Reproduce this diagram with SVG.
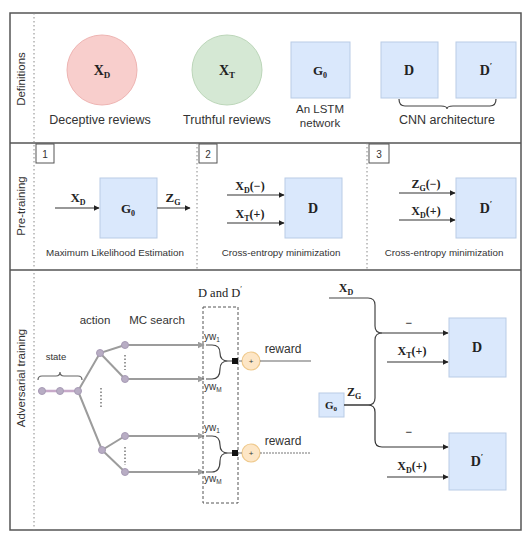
<svg xmlns="http://www.w3.org/2000/svg" width="528" height="536" viewBox="0 0 528 536">
<style>
.frame{fill:none;stroke:#555;stroke-width:1.5}
.sep{stroke:#555;stroke-width:1.5}
.dotl{stroke:#888;stroke-width:1;stroke-dasharray:1.5 2.5}
.box{fill:#dae8fc;stroke:#b9cce6;stroke-width:1}
.math{font-family:"Liberation Serif",serif;font-weight:bold;fill:#222}
.serif{font-family:"Liberation Serif",serif;fill:#222}
.cap{font-family:"Liberation Sans",Arial,sans-serif;fill:#333}
.arr{stroke:#333;stroke-width:1.2;fill:none;marker-end:url(#ah)}
.ln{stroke:#444;stroke-width:1.2;fill:none}
.tree{stroke:#9c9c9c;stroke-width:2;fill:none}
.tarr{stroke:#9c9c9c;stroke-width:2;fill:none;marker-end:url(#gh)}
.nd{fill:#b8adc4;stroke:#a79bb5;stroke-width:1}
.num{fill:#fff;stroke:#555;stroke-width:1}
.plus{fill:#fde6c6;stroke:#efc98c;stroke-width:1.2}
.vd{stroke:#777;stroke-width:1.5;stroke-dasharray:1.5 2}
</style>
<defs>
<marker id="ah" viewBox="0 0 10 10" refX="9" refY="5" markerWidth="6" markerHeight="6" orient="auto" markerUnits="userSpaceOnUse"><path d="M0,0 L10,5 L0,10 z" fill="#222"/></marker>
<marker id="gh" viewBox="0 0 10 10" refX="9" refY="5" markerWidth="7" markerHeight="7" orient="auto" markerUnits="userSpaceOnUse"><path d="M0,0 L10,5 L0,10 z" fill="#9c9c9c"/></marker>
</defs>
<rect x="0" y="0" width="528" height="536" fill="#fff"/>

<g id="frame">
<rect class="frame" x="10" y="13" width="511" height="517"/>
<line class="sep" x1="10" y1="143" x2="521" y2="143"/>
<line class="sep" x1="10" y1="270" x2="521" y2="270"/>
<line class="dotl" x1="34" y1="13" x2="34" y2="530"/>
<line class="dotl" x1="197" y1="143" x2="197" y2="270"/>
<line class="dotl" x1="367" y1="143" x2="367" y2="270"/>
<text class="cap" font-size="11.5" transform="translate(25,79) rotate(-90)" text-anchor="middle">Definitions</text>
<text class="cap" font-size="11.5" transform="translate(25,206) rotate(-90)" text-anchor="middle">Pre-training</text>
<text class="cap" font-size="11.5" transform="translate(25,378) rotate(-90)" text-anchor="middle">Adversarial training</text>
</g>

<!-- Definitions -->
<g id="def-xd">
<circle cx="102" cy="70" r="35" fill="#f8cecc" stroke="#eeb4b2" stroke-width="1"/>
<text class="math" x="102" y="75" font-size="14" text-anchor="middle">X<tspan font-size="9" dy="3">D</tspan></text>
<text class="cap" x="100" y="124" font-size="12.5" text-anchor="middle">Deceptive reviews</text>
</g>
<g id="def-xt">
<circle cx="227" cy="70" r="35" fill="#d5e8d4" stroke="#bcd6b9" stroke-width="1"/>
<text class="math" x="227" y="75" font-size="14" text-anchor="middle">X<tspan font-size="9" dy="3">T</tspan></text>
<text class="cap" x="227" y="124" font-size="12.5" text-anchor="middle">Truthful reviews</text>
</g>
<g id="def-g0">
<rect class="box" x="291" y="42" width="59" height="56"/>
<text class="math" x="320" y="75" font-size="13" text-anchor="middle">G<tspan font-size="8" dy="3">0</tspan></text>
<text class="cap" x="320" y="113" font-size="11.5" text-anchor="middle">An LSTM</text>
<text class="cap" x="320" y="127" font-size="11.5" text-anchor="middle">network</text>
</g>
<g id="def-d">
<rect class="box" x="381" y="42" width="57" height="56"/>
<text class="math" x="409" y="75" font-size="14" text-anchor="middle">D</text>
</g>
<g id="def-dp">
<rect class="box" x="456" y="42" width="60" height="56"/>
<text class="math" x="486" y="75" font-size="14" text-anchor="middle">D<tspan font-size="9" dy="-6">′</tspan></text>
</g>
<g id="def-cnn">
<path class="ln" d="M399 99 Q399 106 405 106 H441 Q447 106 447 109 Q447 106 453 106 H490 Q496 106 496 99" stroke="#777"/>
<text class="cap" x="447" y="124" font-size="12.5" text-anchor="middle">CNN architecture</text>
</g>

<!-- Pre-training -->
<g id="pt1">
<rect class="num" x="36" y="144" width="18" height="19"/>
<text class="cap" x="45" y="158" font-size="10" text-anchor="middle">1</text>
<rect class="box" x="100" y="178" width="57" height="60"/>
<text class="math" x="128" y="213" font-size="13" text-anchor="middle">G<tspan font-size="8" dy="3">0</tspan></text>
<text class="math" x="78" y="202" font-size="13" text-anchor="middle">X<tspan font-size="8" dy="3">D</tspan></text>
<text class="math" x="173" y="202" font-size="13" text-anchor="middle">Z<tspan font-size="8" dy="3">G</tspan></text>
<text class="cap" x="115" y="256" font-size="9.8" text-anchor="middle">Maximum Likelihood Estimation</text>
</g>
<g id="pt2">
<rect class="num" x="199" y="144" width="18" height="19"/>
<text class="cap" x="208" y="158" font-size="10" text-anchor="middle">2</text>
<rect class="box" x="285" y="178" width="57" height="60"/>
<text class="math" x="313" y="213" font-size="14" text-anchor="middle">D</text>
<text class="math" x="250" y="190" font-size="12" text-anchor="middle">X<tspan font-size="8" dy="3">D</tspan><tspan dy="-3">(−)</tspan></text>
<text class="math" x="250" y="218" font-size="12" text-anchor="middle">X<tspan font-size="8" dy="3">T</tspan><tspan dy="-3">(+)</tspan></text>
<text class="cap" x="281" y="256" font-size="9.8" text-anchor="middle">Cross-entropy minimization</text>
</g>
<g id="pt3">
<rect class="num" x="369" y="144" width="20" height="19"/>
<text class="cap" x="379" y="158" font-size="10" text-anchor="middle">3</text>
<rect class="box" x="456" y="178" width="60" height="60"/>
<text class="math" x="486" y="213" font-size="14" text-anchor="middle">D<tspan font-size="9" dy="-6">′</tspan></text>
<text class="math" x="426" y="188" font-size="12" text-anchor="middle">Z<tspan font-size="8" dy="3">G</tspan><tspan dy="-3">(−)</tspan></text>
<text class="math" x="426" y="215" font-size="12" text-anchor="middle">X<tspan font-size="8" dy="3">D</tspan><tspan dy="-3">(+)</tspan></text>
<text class="cap" x="444" y="256" font-size="9.8" text-anchor="middle">Cross-entropy minimization</text>
</g>

<!-- Adversarial: tree -->
<g id="tree">
<text class="cap" x="56" y="360" font-size="9.5" text-anchor="middle">state</text>
<text class="cap" x="95" y="324" font-size="11.5" text-anchor="middle">action</text>
<text class="cap" x="157" y="324" font-size="11.5" text-anchor="middle">MC search</text>
<path d="M38 380 Q38 376 42 376 H56 Q60 376 60 372 Q60 376 64 376 H78 Q82 376 82 380" fill="none" stroke="#666" stroke-width="1.2"/>
<line x1="38" y1="391" x2="78" y2="391" stroke="#c7a9c9" stroke-width="2.5"/>
<path class="tree" d="M78 391 L100 353 L125 345"/>
<path class="tree" d="M100 353 L125 379"/>
<path class="tree" d="M78 391 L102 450 L125 436"/>
<path class="tree" d="M102 450 L125 472"/>
<path class="tarr" d="M125 345 H204"/>
<path class="tarr" d="M125 379 H204"/>
<path class="tarr" d="M125 436 H204"/>
<path class="tarr" d="M125 472 H204"/>
<circle class="nd" cx="42" cy="391" r="3.5"/>
<circle class="nd" cx="60" cy="391" r="3.5"/>
<circle class="nd" cx="78" cy="391" r="3.5"/>
<circle class="nd" cx="100" cy="353" r="3.5"/>
<circle class="nd" cx="102" cy="450" r="3.5"/>
<circle class="nd" cx="125" cy="345" r="3.5"/>
<circle class="nd" cx="125" cy="379" r="3.5"/>
<circle class="nd" cx="125" cy="436" r="3.5"/>
<circle class="nd" cx="125" cy="472" r="3.5"/>
<line class="vd" x1="125" y1="355" x2="125" y2="370"/>
<line class="vd" x1="101" y1="388" x2="101" y2="408"/>
<line class="vd" x1="125" y1="447" x2="125" y2="465"/>
</g>

<g id="dd-box">
<rect x="203" y="307" width="35" height="196" fill="none" stroke="#555" stroke-width="1" stroke-dasharray="3 2"/>
<text class="serif" x="220" y="297" font-size="12.5" text-anchor="middle">D and D<tspan font-size="8" dy="-5">′</tspan></text>
<text class="cap" x="204" y="340" font-size="10">yw<tspan font-size="6.5" dy="2">1</tspan></text>
<text class="cap" x="204" y="390" font-size="10">yw<tspan font-size="6.5" dy="2">M</tspan></text>
<text class="cap" x="204" y="431" font-size="10">yw<tspan font-size="6.5" dy="2">1</tspan></text>
<text class="cap" x="204" y="482" font-size="10">yw<tspan font-size="6.5" dy="2">M</tspan></text>
<path class="ln" d="M206 345 H212 Q220 345 220 353 Q220 361 228 361 H233 M206 379 H212 Q220 379 220 369 Q220 361 228 361" stroke="#777"/>
<path class="ln" d="M206 436 H212 Q220 436 220 445 Q220 453 228 453 H233 M206 472 H212 Q220 472 220 461 Q220 453 228 453" stroke="#777"/>
<rect x="232" y="358" width="6" height="6" fill="#111"/>
<rect x="232" y="450" width="6" height="6" fill="#111"/>
</g>

<g id="reward1">
<circle class="plus" cx="251" cy="361" r="9"/>
<text class="cap" x="251" y="364" font-size="8" text-anchor="middle">+</text>
<line x1="238" y1="361" x2="242" y2="361" stroke="#777" stroke-width="1"/>
<line x1="260" y1="361" x2="311" y2="361" stroke="#666" stroke-width="1.2"/>
<text class="cap" x="283" y="353" font-size="12" text-anchor="middle">reward</text>
</g>
<g id="reward2">
<circle class="plus" cx="251" cy="453" r="9"/>
<text class="cap" x="251" y="456" font-size="8" text-anchor="middle">+</text>
<line x1="238" y1="453" x2="242" y2="453" stroke="#777" stroke-width="1"/>
<line x1="260" y1="453" x2="311" y2="453" stroke="#777" stroke-width="1.2" stroke-dasharray="2 1"/>
<text class="cap" x="283" y="445" font-size="12" text-anchor="middle">reward</text>
</g>

<!-- Adversarial right side -->
<g id="adv-g0">
<rect class="box" x="319" y="393" width="25" height="24"/>
<text class="math" x="331" y="409" font-size="11" text-anchor="middle">G<tspan font-size="7" dy="2">0</tspan></text>
<text class="math" x="354" y="396" font-size="12" text-anchor="middle">Z<tspan font-size="8" dy="3">G</tspan></text>
</g>
<g id="adv-d">
<rect class="box" x="449" y="318" width="57" height="59"/>
<text class="math" x="477" y="352" font-size="14" text-anchor="middle">D</text>
</g>
<g id="adv-dp">
<rect class="box" x="449" y="433" width="57" height="57"/>
<text class="math" x="477" y="466" font-size="14" text-anchor="middle">D<tspan font-size="9" dy="-6">′</tspan></text>
</g>
<g id="connectors">
<path class="arr" d="M55 208 H99"/>
<path class="arr" d="M157 208 H190"/>
<path class="arr" d="M227 195 H284"/>
<path class="arr" d="M227 223 H284"/>
<path class="arr" d="M399 193 H455"/>
<path class="arr" d="M399 220 H455"/>
<path class="ln" d="M329 298 H368 Q375 298 375 305 V326 Q375 333 382 333"/>
<path class="ln" d="M344 405 H368 Q375 405 375 398 V340 Q375 333 382 333"/>
<path class="arr" d="M382 333 H448"/>
<path class="arr" d="M344 405 H368 Q375 405 375 412 V440 Q375 447 382 447 H448"/>
<path class="arr" d="M387 362 H448"/>
<path class="arr" d="M387 477 H448"/>
<text class="math" x="346" y="292" font-size="12" text-anchor="middle">X<tspan font-size="8" dy="3">D</tspan></text>
<text class="math" x="409" y="327" font-size="12" text-anchor="middle">−</text>
<text class="math" x="409" y="436" font-size="12" text-anchor="middle">−</text>
<text class="math" x="412" y="355" font-size="12" text-anchor="middle">X<tspan font-size="8" dy="3">T</tspan><tspan dy="-3">(+)</tspan></text>
<text class="math" x="412" y="470" font-size="12" text-anchor="middle">X<tspan font-size="8" dy="3">D</tspan><tspan dy="-3">(+)</tspan></text>
</g>
</svg>
